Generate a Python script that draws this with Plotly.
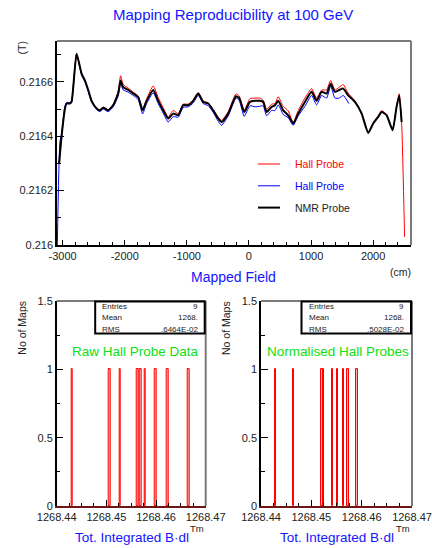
import plotly.graph_objects as go

# ---------------- data ----------------
# NMR probe field along the magnet (cm, Tesla)
nmr_pos = [-3055, -3016, -2963, -2936, -2882, -2855, -2775, -2694, -2641, -2588,
           -2533, -2452, -2399, -2346, -2266, -2185, -2105, -2066, -2024, -1944,
           -1863, -1783, -1712, -1647, -1541, -1460, -1380, -1300, -1219, -1138,
           -1058, -977, -897, -816, -736, -655, -575, -494, -440, -333,
           -209, -156, -76, 16, 97, 177, 230, 285, 366, 419,
           472, 552, 633, 713, 794, 902, 1010, 1090, 1171, 1251,
           1316, 1385, 1454, 1519, 1599, 1707, 1815, 1921, 2002, 2082,
           2137, 2217, 2314, 2378, 2420, 2459]
nmr_field = [0.21630, 0.21640, 0.21650, 0.21652, 0.21652, 0.216526, 0.216703, 0.21663, 0.216605, 0.21657,
             0.21653, 0.216502, 0.216495, 0.216505, 0.216495, 0.216514, 0.216557, 0.216605, 0.21658, 0.21657,
             0.216557, 0.216544, 0.216495, 0.21653, 0.21657, 0.21653, 0.216495, 0.216465, 0.216483, 0.216477,
             0.216514, 0.216514, 0.21653, 0.216557, 0.216526, 0.21652, 0.216495, 0.216465, 0.216452, 0.216483,
             0.216547, 0.21654, 0.216489, 0.216526, 0.21653, 0.21653, 0.216526, 0.216489, 0.216508, 0.216514,
             0.21653, 0.216495, 0.216477, 0.216447, 0.216483, 0.216526, 0.216563, 0.21653, 0.216563, 0.216557,
             0.216593, 0.216563, 0.21657, 0.216575, 0.21655, 0.216526, 0.216483, 0.216412, 0.216447, 0.216471,
             0.216489, 0.216477, 0.216422, 0.216508, 0.21655, 0.216452]

# first Hall probe (red)
hall1_pos = nmr_pos + [2507]
hall1_field = [0.21630, 0.21640, 0.21650, 0.21652, 0.21652, 0.216526, 0.216703, 0.21663, 0.216605, 0.21657,
               0.21653, 0.216502, 0.216497, 0.216507, 0.216497, 0.216518, 0.216565, 0.216622, 0.21659, 0.216577,
               0.216562, 0.216548, 0.216500, 0.216537, 0.216585, 0.216542, 0.216505, 0.21647, 0.216495, 0.216482,
               0.216518, 0.216518, 0.216533, 0.21656, 0.21653, 0.216522, 0.216498, 0.21647, 0.216458, 0.21649,
               0.216556, 0.216548, 0.216495, 0.216538, 0.21654, 0.21654, 0.216533, 0.216498, 0.216518, 0.21652,
               0.216545, 0.21651, 0.216493, 0.21645, 0.216495, 0.21654, 0.216575, 0.21654, 0.21657, 0.21657,
               0.216605, 0.21657, 0.21658, 0.21659, 0.216558, 0.21653, 0.216487, 0.216415, 0.21645, 0.216475,
               0.216494, 0.21648, 0.216425, 0.216512, 0.216556, 0.21645, 0.21603]

# second Hall probe (blue)
hall2_pos = [-3085, -3043, -3016, -2963, -2936, -2882, -2855, -2775, -2694, -2641,
             -2588, -2533, -2452, -2399, -2346, -2266, -2185, -2105, -2066, -2024,
             -1944, -1863, -1783, -1712, -1647, -1541, -1460, -1380, -1300, -1219,
             -1138, -1058, -977, -897, -816, -736, -655, -575, -494, -440,
             -333, -209, -156, -76, 16, 97, 177, 230, 285, 366,
             419, 472, 552, 633, 713, 794, 902, 1010, 1090, 1171,
             1251, 1316, 1385, 1454, 1519, 1610]
hall2_field = [0.21600, 0.21638, 0.21641, 0.21651, 0.216524, 0.216524, 0.21653, 0.21670, 0.216625, 0.21660,
               0.216565, 0.216525, 0.216498, 0.21649, 0.21650, 0.21649, 0.216508, 0.216548, 0.216592, 0.21657,
               0.216562, 0.21655, 0.216535, 0.216482, 0.21652, 0.21656, 0.21652, 0.216485, 0.216452, 0.216472,
               0.21647, 0.216506, 0.216508, 0.216522, 0.21655, 0.21652, 0.216512, 0.216488, 0.216455, 0.21644,
               0.216475, 0.21654, 0.216532, 0.216473, 0.216512, 0.216508, 0.21651, 0.216512, 0.216475, 0.216495,
               0.216494, 0.216515, 0.21648, 0.216468, 0.21644, 0.216475, 0.21651, 0.21655, 0.216515, 0.21655,
               0.21654, 0.216585, 0.21654, 0.21654, 0.21655, 0.21652]

# total integrated B.dl per map (Tm)
raw_bdl = [1268.44308, 1268.45059, 1268.45268, 1268.45637, 1268.45703,
           1268.45778, 1268.45985, 1268.46227, 1268.46657]
norm_bdl = [1268.44278, 1268.44636, 1268.45206, 1268.45240, 1268.45436,
            1268.45524, 1268.45649, 1268.45715, 1268.45913]

# tick labels and statistics text
field_ticks = [-3000, -2000, -1000, 0, 1000, 2000]
field_ticktext = ["-3000", "-2000", "-1000", "0", "1000", "2000"]
b_ticks = [0.216, 0.2162, 0.2164, 0.2166]
b_ticktext = ["0.216", "0.2162", "0.2164", "0.2166"]
bdl_ticks = [1268.44, 1268.45, 1268.46, 1268.47]
bdl_ticktext = ["1268.44", "1268.45", "1268.46", "1268.47"]
count_ticks = [0, 0.5, 1, 1.5]
count_ticktext = ["0", "0.5", "1", "1.5"]
stat_names = ["Entries", "Mean", "RMS"]
raw_stats = ["9", "1268.", ".6464E-02"]
norm_stats = ["9", "1268.", ".5028E-02"]
legend_names = ["Hall Probe", "Hall Probe", "NMR Probe"]

# ---------------- layout helpers ----------------
W, H = 432, 548
FONT = "Liberation Sans, Arial, sans-serif"
BLUE = "#1414ff"
GREEN = "#10e010"
TXT = "#222222"


def px(x):
    return x / W


def py(y):
    return 1 - y / H


fig = go.Figure()

# field profiles
fig.add_trace(go.Scatter(x=hall2_pos, y=hall2_field, mode="lines",
                         line=dict(color="#0000ff", width=1, shape="spline", smoothing=0.5),
                         xaxis="x", yaxis="y", showlegend=False))
fig.add_trace(go.Scatter(x=hall1_pos, y=hall1_field, mode="lines",
                         line=dict(color="#ff0000", width=1, shape="spline", smoothing=0.5),
                         xaxis="x", yaxis="y", showlegend=False))
fig.add_trace(go.Scatter(x=nmr_pos, y=nmr_field, mode="lines",
                         line=dict(color="#000000", width=2, shape="spline", smoothing=0.5),
                         xaxis="x", yaxis="y", showlegend=False))

# histograms of integrated field
bins = dict(start=1268.44, end=1268.47, size=0.0003)
for vals, xa, ya in [(raw_bdl, "x2", "y2"), (norm_bdl, "x3", "y3")]:
    fig.add_trace(go.Histogram(x=vals, xbins=bins, autobinx=False,
                               marker=dict(color="rgba(255,120,120,0.6)",
                                           line=dict(color="#ff0000", width=1)),
                               xaxis=xa, yaxis=ya, showlegend=False))

tickfont = dict(family=FONT, size=11, color=TXT)


def axis_common():
    return dict(showline=True, linecolor="black", linewidth=1.5, ticks="inside",
                tickcolor="black", tickwidth=1, showgrid=False, zeroline=False,
                tickfont=tickfont, tickmode="array", fixedrange=True,
                automargin=False)


xa = axis_common()
xa.update(domain=[px(57), px(411)], range=[-3090, 2610], anchor="y",
          tickvals=field_ticks, ticktext=field_ticktext, ticklen=5,
          minor=dict(tickmode="linear", tick0=-3000, dtick=200, ticklen=3,
                     ticks="inside", tickcolor="black"))
ya = axis_common()
ya.update(domain=[py(245), py(41)], range=[0.216, 0.21675], anchor="x",
          tickvals=b_ticks, ticktext=b_ticktext, ticklen=7,
          minor=dict(tickmode="linear", tick0=0.216, dtick=0.0001, ticklen=4,
                     ticks="inside", tickcolor="black"))

fig.update_layout(xaxis=xa, yaxis=ya)

for n, (l, r) in [(2, (56.7, 205.7)), (3, (261, 412))]:
    xh = axis_common()
    xh.update(domain=[px(l), px(r)], range=[1268.44, 1268.47], anchor=f"y{n}",
              tickvals=bdl_ticks, ticktext=bdl_ticktext, ticklen=6,
              linecolor="#701515", linewidth=2,
              minor=dict(tickmode="linear", tick0=1268.44, dtick=0.0025, ticklen=3,
                         ticks="inside", tickcolor="black"))
    yh = axis_common()
    yh.update(domain=[py(506), py(301)], range=[0, 1.5], anchor=f"x{n}",
              tickvals=count_ticks, ticktext=count_ticktext, ticklen=7,
              minor=dict(tickmode="linear", tick0=0, dtick=0.25, ticklen=4,
                         ticks="inside", tickcolor="black"))
    fig.update_layout({f"xaxis{n}": xh, f"yaxis{n}": yh})

shapes = []
# grey top/right frame edges
for xr, yr in [("x", "y"), ("x2", "y2"), ("x3", "y3")]:
    shapes.append(dict(type="line", xref=f"{xr} domain", yref=f"{yr} domain",
                       x0=0, x1=1, y0=1, y1=1, line=dict(color="#7a7a7a", width=2)))
    shapes.append(dict(type="line", xref=f"{xr} domain", yref=f"{yr} domain",
                       x0=1, x1=1, y0=0, y1=1, line=dict(color="#7a7a7a", width=2)))

annotations = []


def text(x, y, s, size, color=TXT, angle=0, xanchor="center"):
    annotations.append(dict(x=px(x), y=py(y), xref="paper", yref="paper", text=s,
                            showarrow=False, textangle=angle, xanchor=xanchor,
                            yanchor="middle",
                            font=dict(family=FONT, size=size, color=color)))


# titles
text(233, 14, "Mapping Reproducibility at 100 GeV", 15, BLUE)
text(233.5, 277, "Mapped Field", 14, BLUE)
text(400, 272, "(cm)", 10.5)
text(21.5, 48, "(T)", 10.5, angle=-90)

# legend
legend_colors = ["#ff0000", "#0000ff", "#000000"]
legend_widths = [1, 1, 2]
for i, (name, col, wd) in enumerate(zip(legend_names, legend_colors, legend_widths)):
    yy = 164 + i * 21.8
    shapes.append(dict(type="line", xref="paper", yref="paper",
                       x0=px(258), x1=px(280), y0=py(yy), y1=py(yy),
                       line=dict(color=col, width=wd)))
    text(292.5, yy, name, 10.5, col if col != "#000000" else TXT, xanchor="left")

# lower panels: stat boxes and labels
for (l, r), label, lx, stats in [((56.7, 205.7), "Raw Hall Probe Data", 135.5, raw_stats),
                                 ((261, 412), "Normalised Hall Probes", 338, norm_stats)]:
    box_l = r - 110.5
    shapes.append(dict(type="rect", xref="paper", yref="paper",
                       x0=px(box_l), x1=px(r - 1), y0=py(333.5), y1=py(301.5),
                       line=dict(color="black", width=2), fillcolor="white", layer="above"))
    for j, (nm, val) in enumerate(zip(stat_names, stats)):
        yy = 306.5 + j * 11.3
        text(box_l + 5, yy, nm, 8, xanchor="left")
        text(r - 6, yy, val, 8, xanchor="right")
    text(lx, 351, label, 13.5, GREEN)
    text((l + r) / 2 + 0.5, 537, "Tot. Integrated B\u00b7dl", 13.5, BLUE)
    text(r - 9, 528, "Tm", 9.5)
    text(l - 35, 328, "No of Maps", 10.5, angle=-90)

fig.update_layout(width=W, height=H, margin=dict(l=0, r=0, t=0, b=0),
                  paper_bgcolor="white", plot_bgcolor="white",
                  shapes=shapes, annotations=annotations, showlegend=False,
                  bargap=0)

fig.write_html("out.html", config={"displayModeBar": False})
